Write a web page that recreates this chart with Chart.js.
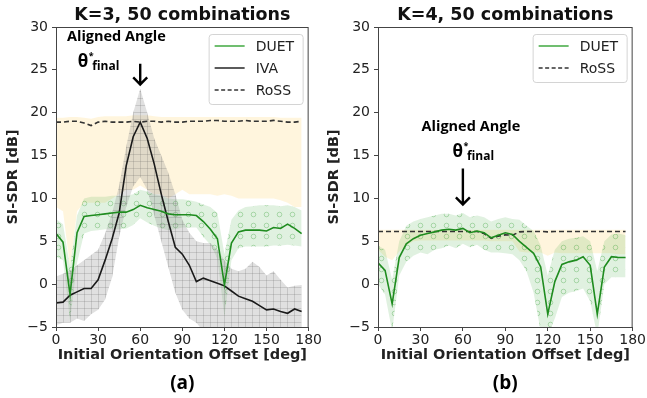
<!DOCTYPE html>
<html>
<head>
<meta charset="utf-8">
<script src="https://cdn.jsdelivr.net/npm/chart.js@4.4.1/dist/chart.umd.min.js"></script>
<style>
  body { margin: 0; background: #fff; }
  #wrap { position: relative; width: 647px; height: 398px; }
  canvas { position: absolute; top: 0; }
</style>
</head>
<body>
<div id="wrap">
  <canvas id="chartA" width="323" height="398" style="left:0"></canvas>
  <canvas id="chartB" width="324" height="398" style="left:323px"></canvas>
</div>
<script>
// x values: initial orientation offset in degrees
const offsets = [0, 5, 10, 15, 20, 25, 30, 35, 40, 45, 50, 55, 60, 65, 70, 75, 80, 85,
  90, 95, 100, 105, 110, 115, 120, 125, 130, 135, 140, 145, 150, 155, 160, 165, 170, 175];
const xTicks = [0, 30, 60, 90, 120, 150, 180];
const yTicks = [-5, 0, 5, 10, 15, 20, 25, 30];

// (a) K=3
const duetA = [5.9, 4.9, -1.2, 6.0, 7.9, 8.0, 8.1, 8.2, 8.3, 8.4, 8.4, 8.7, 9.2, 8.9, 8.7, 8.5, 8.2, 8.1,
  8.1, 8.1, 8.0, 7.3, 6.4, 5.3, -0.1, 4.8, 6.1, 6.3, 6.3, 6.3, 6.2, 6.6, 6.5, 7.0, 6.5, 5.9];
const duetHiA = [7.6, 7.0, 2.0, 8.0, 10.0, 10.2, 10.2, 10.2, 10.3, 10.3, 10.3, 10.5, 11.0, 10.8, 10.5, 10.3, 10.0, 9.9,
  9.9, 9.8, 9.6, 9.3, 9.0, 8.3, 3.5, 7.5, 8.6, 9.0, 9.1, 9.2, 9.2, 9.2, 9.1, 9.2, 9.0, 8.6];
const duetLoA = [3.2, 2.8, -4.3, 2.5, 5.9, 6.2, 6.3, 6.4, 6.4, 6.4, 6.5, 6.9, 7.7, 7.2, 6.8, 6.5, 6.3, 6.4,
  6.6, 6.6, 6.6, 5.5, 4.6, 3.0, -3.8, 2.8, 4.2, 4.4, 4.4, 4.4, 4.4, 4.5, 4.5, 4.6, 4.5, 4.4];
const ivaA = [-2.2, -2.1, -1.3, -0.9, -0.5, -0.5, 0.5, 2.8, 5.3, 8.3, 13.8, 17.2, 18.9, 17.0, 14.0, 10.5, 7.3, 4.3,
  3.5, 2.2, 0.3, 0.7, 0.4, 0.1, -0.2, -0.8, -1.4, -1.7, -2.0, -2.5, -3.0, -2.9, -3.2, -3.4, -2.9, -3.2];
const ivaHiA = [0.9, 1.2, 1.6, 2.2, 2.8, 3.4, 4.0, 5.9, 8.3, 11.5, 16.0, 20.0, 22.8, 20.0, 17.0, 15.0, 13.0, 10.5,
  7.5, 6.0, 5.0, 4.8, 4.8, 4.0, 2.8, 1.8, 1.5, 1.8, 2.6, 2.0, 1.0, 1.5, 0.5, -0.4, -0.2, -0.1];
const ivaLoA = [-4.8, -4.5, -4.5, -4.0, -4.3, -3.5, -3.0, -1.8, 0.8, 5.5, 9.0, 11.4, 12.5, 11.0, 8.0, 5.0, 2.0, -1.0,
  -3.0, -4.0, -4.5, -5.5, -5.5, -5.5, -5.5, -5.5, -5.5, -5.5, -5.5, -5.5, -5.5, -5.5, -5.5, -5.5, -5.5, -5.5];
const rossA = [18.9, 18.9, 19.0, 19.0, 18.8, 18.5, 18.9, 19.0, 18.9, 18.9, 18.9, 19.0, 18.9, 19.0, 19.0, 18.9, 19.0, 18.9,
  18.9, 19.0, 19.0, 19.0, 19.1, 19.1, 19.0, 19.0, 19.0, 19.1, 19.0, 19.0, 19.0, 19.1, 19.0, 18.9, 18.9, 19.0];
const rossHiA = [19.4, 19.4, 19.5, 19.5, 19.4, 19.3, 19.5, 19.6, 19.6, 19.6, 19.6, 19.7, 19.7, 19.7, 19.6, 19.5, 19.5, 19.5,
  19.5, 19.5, 19.5, 19.5, 19.5, 19.5, 19.5, 19.5, 19.5, 19.5, 19.5, 19.5, 19.5, 19.5, 19.4, 19.4, 19.4, 19.4];
const rossLoA = [9.0, 8.5, 2.0, 8.5, 9.5, 9.5, 9.5, 9.5, 10.0, 10.5, 11.0, 11.0, 11.5, 11.0, 10.5, 10.5, 10.0, 10.5,
  11.0, 10.5, 10.5, 10.5, 10.5, 10.3, 10.5, 10.3, 10.0, 10.0, 10.0, 10.0, 10.0, 10.0, 9.8, 9.5, 9.0, 9.0];

// (b) K=4
const duetB = [2.5, 1.6, -2.3, 3.1, 4.7, 5.3, 5.7, 5.9, 6.1, 6.3, 6.4, 6.3, 6.5, 6.0, 6.2, 6.0, 5.4, 5.7,
  6.0, 5.8, 5.0, 4.3, 3.6, 2.0, -3.5, 0.3, 2.3, 2.6, 2.8, 3.2, 2.2, -3.5, 2.0, 3.2, 3.1, 3.1];
const duetHiB = [4.5, 4.0, 0.5, 5.0, 6.8, 7.3, 7.6, 7.8, 8.0, 8.2, 8.2, 8.0, 8.3, 7.8, 8.0, 7.8, 7.3, 7.6,
  7.8, 7.6, 7.5, 6.8, 6.2, 4.5, 1.0, 4.0, 5.0, 5.3, 5.4, 5.6, 5.0, 1.5, 5.0, 5.8, 5.9, 5.7];
const duetLoB = [0.0, -1.2, -5.5, 1.0, 2.6, 3.3, 3.7, 3.5, 4.0, 4.2, 4.5, 4.2, 4.7, 4.3, 4.6, 4.0, 3.7, 3.7,
  3.6, 3.5, 2.8, 1.5, -1.0, -5.5, -6.0, -4.0, -1.5, -1.0, -0.8, -0.5, -2.0, -6.0, 0.0, 0.8, 0.8, 0.8];
const rossB = [6.15, 6.15, 6.15, 6.15, 6.15, 6.15, 6.15, 6.15, 6.15, 6.15, 6.15, 6.15, 6.15, 6.15, 6.15, 5.9, 5.35, 5.6,
  5.75, 5.7, 6.1, 6.15, 6.15, 6.15, 6.1, 6.15, 6.15, 6.15, 6.15, 6.15, 6.15, 6.15, 6.15, 6.15, 6.15, 6.15];
const rossHiB = [6.35, 6.35, 6.35, 6.35, 6.35, 6.35, 6.35, 6.35, 6.35, 6.35, 6.35, 6.35, 6.35, 6.35, 6.35, 6.35, 6.35, 6.35,
  6.35, 6.35, 6.35, 6.35, 6.35, 6.35, 6.35, 6.35, 6.35, 6.35, 6.35, 6.35, 6.35, 6.35, 6.35, 6.35, 6.35, 6.35];
const rossLoB = [4.0, 3.2, 2.8, 3.8, 4.5, 5.0, 5.1, 5.1, 5.1, 5.1, 5.1, 5.1, 5.1, 5.1, 5.1, 5.1, 5.0, 5.0,
  5.0, 5.0, 3.8, 3.7, 3.7, 3.7, 3.3, 3.7, 3.6, 3.6, 3.6, 3.6, 3.6, 3.6, 3.6, 3.6, 3.5, 3.5];

const FONT = "'DejaVu Sans', sans-serif";
const NOTE_FONT = "'Open Sans', sans-serif";
const GREEN = "#1f8c1f";

// hatch fills
function makePattern(w, h, bg, draw) {
  const c = document.createElement("canvas");
  c.width = w;
  c.height = h;
  const g = c.getContext("2d");
  g.fillStyle = bg;
  g.fillRect(0, 0, w, h);
  draw(g);
  return g.createPattern(c, "repeat");
}
const grayHatch = makePattern(7, 7, "rgba(140,140,140,0.27)", (g) => {
  g.fillStyle = "rgba(90,90,90,0.2)";
  g.fillRect(0, 0, 7, 1);
  g.fillRect(0, 0, 1, 7);
});
const greenHatch = makePattern(13, 11, "rgba(60,170,60,0.16)", (g) => {
  g.strokeStyle = "rgba(50,160,50,0.32)";
  g.lineWidth = 1;
  g.beginPath();
  g.arc(6.5, 5.5, 2.3, 0, Math.PI * 2);
  g.stroke();
});
const beige = "rgba(255,224,150,0.32)";

function pts(ys) {
  return offsets.map((x, i) => ({ x: x, y: ys[i] }));
}
function lineSet(label, ys, color, dash) {
  return {
    label: label, data: pts(ys), borderColor: color, borderWidth: 1.6,
    borderDash: dash || [], pointRadius: 0, tension: 0, fill: false, order: 0,
  };
}
function bandSets(lo, hi, fillStyle, order) {
  return [
    { label: "", data: pts(lo), borderWidth: 0, borderColor: "rgba(0,0,0,0)", pointRadius: 0, fill: false, order: order },
    { label: "", data: pts(hi), borderWidth: 0, borderColor: "rgba(0,0,0,0)", pointRadius: 0,
      fill: { target: "-1", above: fillStyle, below: fillStyle }, order: order },
  ];
}

// frame, legend box, annotations, panel letter
const decorations = {
  id: "decorations",
  afterDatasetsDraw(chart, args, opts) {
    const { ctx, chartArea: a } = chart;
    const sx = chart.scales.x, sy = chart.scales.y;
    ctx.save();
    ctx.strokeStyle = "#444";
    ctx.lineWidth = 1;
    ctx.strokeRect(a.left + 0.5, a.top + 0.5, a.right - a.left - 1, a.bottom - a.top);

    // annotation
    const n = opts.note;
    ctx.fillStyle = "#000";
    ctx.font = "bold 14.5px " + NOTE_FONT;
    ctx.textAlign = "center";
    ctx.textBaseline = "middle";
    ctx.fillText("Aligned Angle", sx.getPixelForValue(n.labelX), sy.getPixelForValue(n.labelY));
    const tx = sx.getPixelForValue(n.thetaX), tb = sy.getPixelForValue(n.thetaY);
    ctx.textAlign = "left";
    ctx.textBaseline = "alphabetic";
    ctx.font = "bold 17px " + NOTE_FONT;
    ctx.fillText("θ", tx, tb);
    const tw = ctx.measureText("θ").width;
    ctx.font = "bold 9px " + NOTE_FONT;
    ctx.fillText("*", tx + tw + 0.5, tb - 8);
    ctx.font = "bold 12px " + NOTE_FONT;
    ctx.fillText("final", tx + tw + 4, tb + 3);
    const ax = sx.getPixelForValue(n.arrowX);
    const at = sy.getPixelForValue(n.arrowTop), ab = sy.getPixelForValue(n.arrowBottom);
    ctx.strokeStyle = "#000";
    ctx.lineWidth = 2.4;
    ctx.beginPath();
    ctx.moveTo(ax, at);
    ctx.lineTo(ax, ab);
    ctx.moveTo(ax - 7, ab - 7);
    ctx.lineTo(ax, ab);
    ctx.lineTo(ax + 7, ab - 7);
    ctx.stroke();

    // legend box
    const items = opts.legend;
    const bw = 94, bh = items.length * 22 + 4;
    const bx = a.right - 6 - bw, by = a.top + 7;
    ctx.fillStyle = "rgba(255,255,255,0.85)";
    ctx.strokeStyle = "#d4d4d4";
    ctx.lineWidth = 1;
    ctx.beginPath();
    ctx.roundRect(bx + 0.5, by + 0.5, bw, bh, 3);
    ctx.fill();
    ctx.stroke();
    ctx.font = "14px " + FONT;
    ctx.textBaseline = "middle";
    ctx.textAlign = "left";
    items.forEach((it, i) => {
      const yy = by + 12 + i * 22;
      ctx.strokeStyle = it.color;
      ctx.lineWidth = 1.6;
      ctx.setLineDash(it.dash);
      ctx.beginPath();
      ctx.moveTo(bx + 6, yy);
      ctx.lineTo(bx + 36, yy);
      ctx.stroke();
      ctx.setLineDash([]);
      ctx.fillStyle = "#222";
      ctx.fillText(it.label, bx + 47, yy + 1);
    });

    // panel letter
    ctx.fillStyle = "#000";
    ctx.font = "bold 19px " + NOTE_FONT;
    ctx.textAlign = "center";
    ctx.textBaseline = "middle";
    ctx.fillText(opts.letter, (a.left + a.right) / 2, 384);
    ctx.restore();
  },
};

function fmtTick(v) {
  return v < 0 ? "\u2212" + Math.abs(v) : String(v);
}

function makeChart(id, title, datasets, yWidth, yTitlePad, rightPad, extra) {
  return new Chart(document.getElementById(id), {
    type: "line",
    data: { datasets: datasets },
    plugins: [decorations],
    options: {
      responsive: false,
      animation: false,
      devicePixelRatio: 1,
      layout: { padding: { left: 0, right: rightPad, top: 0, bottom: 34 } },
      plugins: {
        legend: { display: false },
        tooltip: { enabled: false },
        title: {
          display: true, text: title, fullSize: false, color: "#111",
          font: { family: FONT, size: 17.5, weight: "bold" },
          padding: { top: 5, bottom: 1 },
        },
        decorations: extra,
      },
      scales: {
        x: {
          type: "linear", min: 0, max: 180,
          afterBuildTicks: (s) => { s.ticks = xTicks.map((v) => ({ value: v })); },
          ticks: { font: { family: FONT, size: 14 }, color: "#222", padding: 1, maxRotation: 0, autoSkip: false },
          grid: { drawOnChartArea: false, drawTicks: true, tickLength: 4, color: "#444" },
          border: { display: true, color: "#444" },
          title: {
            display: true, text: "Initial Orientation Offset [deg]", color: "#222",
            font: { family: FONT, size: 14.5, weight: "bold" }, padding: { top: 0, bottom: 0 },
          },
          afterFit: (s) => { s.height = 37; },
        },
        y: {
          min: -5, max: 30,
          afterBuildTicks: (s) => { s.ticks = yTicks.map((v) => ({ value: v })); },
          ticks: { font: { family: FONT, size: 14 }, color: "#222", padding: 4, callback: fmtTick },
          grid: { drawOnChartArea: false, drawTicks: true, tickLength: 4, color: "#444" },
          border: { display: true, color: "#444" },
          title: {
            display: true, text: "SI-SDR [dB]", color: "#222",
            font: { family: FONT, size: 14.5, weight: "bold" }, padding: { top: yTitlePad, bottom: 0 },
          },
          afterFit: (s) => { s.width = yWidth; },
        },
      },
    },
  });
}

makeChart("chartA", "K=3, 50 combinations", [
  lineSet("DUET", duetA, GREEN),
  lineSet("IVA", ivaA, "#1a1a1a"),
  lineSet("RoSS", rossA, "#333", [5, 3]),
  ...bandSets(ivaLoA, ivaHiA, grayHatch, 1),
  ...bandSets(duetLoA, duetHiA, greenHatch, 2),
  ...bandSets(rossLoA, rossHiA, beige, 3),
], 56, 5, 11, {
  letter: "(a)",
  note: { labelX: 43, labelY: 28.8, thetaX: 15.5, thetaY: 25.3, arrowX: 60, arrowTop: 25.7, arrowBottom: 23.3 },
  legend: [
    { label: "DUET", color: "#4cae4c", dash: [] },
    { label: "IVA", color: "#333", dash: [] },
    { label: "RoSS", color: "#333", dash: [4, 2.5] },
  ],
});

makeChart("chartB", "K=4, 50 combinations", [
  lineSet("DUET", duetB, GREEN),
  lineSet("RoSS", rossB, "#333", [5, 3]),
  ...bandSets(duetLoB, duetHiB, greenHatch, 2),
  ...bandSets(rossLoB, rossHiB, beige, 3),
], 55, 2.3, 13, {
  letter: "(b)",
  note: { labelX: 65.7, labelY: 18.3, thetaX: 52.7, thetaY: 14.8, arrowX: 60, arrowTop: 13.5, arrowBottom: 9.3 },
  legend: [
    { label: "DUET", color: "#4cae4c", dash: [] },
    { label: "RoSS", color: "#333", dash: [4, 2.5] },
  ],
});
</script>
</body>
</html>
